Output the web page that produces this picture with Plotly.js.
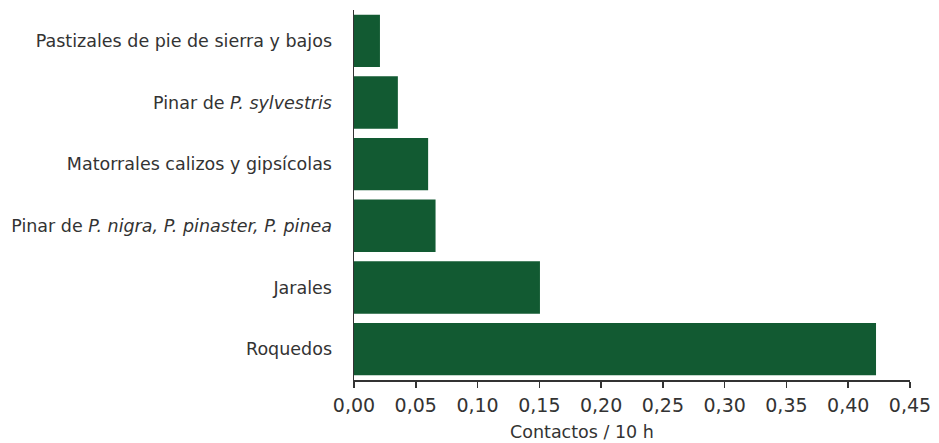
<!DOCTYPE html>
<html>
<head>
<meta charset="utf-8">
<script src="https://cdn.plot.ly/plotly-3.0.1.min.js"></script>
<style>html,body{margin:0;padding:0;background:#fff;}#chart{width:939px;height:443px;}</style>
</head>
<body>
<div id="chart"></div>
<script>
const categories = [
  "Roquedos",
  "Jarales",
  "Pinar de <i>P. nigra, P. pinaster, P. pinea</i>",
  "Matorrales calizos y gipsícolas",
  "Pinar de <i>P. sylvestris</i>",
  "Pastizales de pie de sierra y bajos"
];
const values = [0.4225, 0.1505, 0.066, 0.060, 0.0355, 0.021];
const tickVals = [0, 0.05, 0.10, 0.15, 0.20, 0.25, 0.30, 0.35, 0.40, 0.45];
const tickText = ["0,00","0,05","0,10","0,15","0,20","0,25","0,30","0,35","0,40","0,45"];
const xTitle = "Contactos / 10 h";

const trace = {
  type: "bar",
  orientation: "h",
  x: values,
  y: categories,
  marker: {color: "#125a32"},
  hoverinfo: "none"
};

const layout = {
  width: 939,
  height: 443,
  margin: {l: 354, r: 29, t: 10, b: 63},
  paper_bgcolor: "#ffffff",
  plot_bgcolor: "#ffffff",
  bargap: 0.15,
  showlegend: false,
  font: {family: "'DejaVu Sans', sans-serif", color: "#333333"},
  xaxis: {
    range: [0, 0.45],
    tickvals: tickVals,
    ticktext: tickText,
    showgrid: false,
    zeroline: false,
    showline: true,
    linecolor: "#333333",
    linewidth: 1.5,
    ticks: "outside",
    ticklen: 6,
    tickwidth: 1.5,
    tickcolor: "#333333",
    ticklabelstandoff: 2,
    tickfont: {size: 19, color: "#333333"},
    automargin: false
  },
  yaxis: {
    type: "category",
    range: [-0.5, 5.5],
    showgrid: false,
    zeroline: false,
    showline: true,
    linecolor: "#333333",
    linewidth: 1.5,
    ticks: "",
    ticklabelstandoff: 17,
    tickfont: {size: 17.5, color: "#333333"},
    automargin: false
  },
  annotations: [{
    text: xTitle,
    xref: "paper", yref: "paper",
    x: 0.41, y: 0, yshift: -52,
    xanchor: "center", yanchor: "middle",
    showarrow: false,
    font: {size: 17.5, color: "#333333"}
  }]
};

Plotly.newPlot("chart", [trace], layout, {staticPlot: true, displayModeBar: false});
</script>
</body>
</html>
